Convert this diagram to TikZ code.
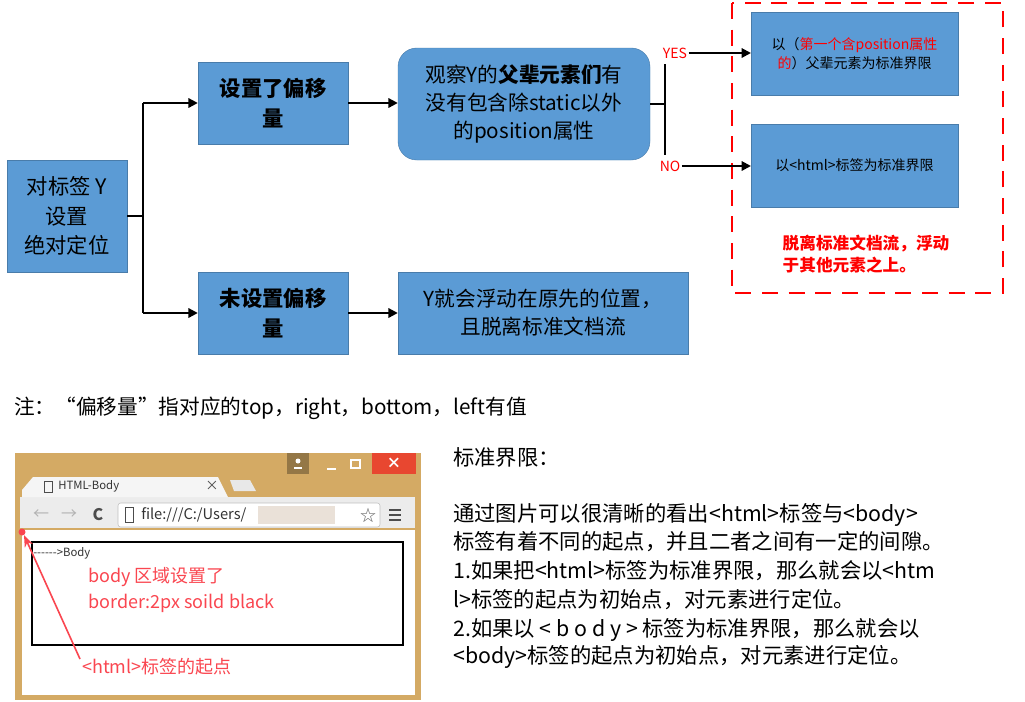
\documentclass[tikz,border=0pt]{standalone}
\usepackage{fontspec}
\setmainfont{Noto Sans CJK SC}
\usetikzlibrary{arrows.meta}
\definecolor{bx}{RGB}{91,155,213}
\definecolor{tan}{RGB}{212,170,100}
\definecolor{pk}{RGB}{250,70,80}
\tikzset{
 blue/.style={fill=bx,draw=bx!80!black,line width=0.3pt,align=center,inner sep=2pt},
 conn/.style={line width=1.6pt,-{Triangle[length=7pt,width=7pt]}},
 ln/.style={line width=1.6pt},
}
\begin{document}
\begin{tikzpicture}[x=0.75pt,y=-0.75pt]
\useasboundingbox (0,0) rectangle (1025,701);
\fill[white] (0,0) rectangle (1025,701);
% boxes
\node[blue,minimum width=90pt,minimum height=84pt,font=\fontsize{16}{22}\selectfont] (A) at (67,216) {对标签 Y\\设置\\绝对定位};
\node[blue,minimum width=112.5pt,minimum height=61.5pt,text width=100pt,font=\bfseries\fontsize{16}{22}\selectfont] (B) at (273,103) {设置了偏移\\量};
\node[blue,rounded corners=14pt,minimum width=189pt,minimum height=84pt,text width=185pt,font=\fontsize{15.5}{21}\selectfont] (C) at (524,104) {观察Y的\textbf{父辈元素们}有\\没有包含除static以外\\的position属性};
\node[blue,minimum width=112.5pt,minimum height=61.5pt,text width=100pt,font=\bfseries\fontsize{16}{22}\selectfont] (D) at (273,313) {未设置偏移\\量};
\node[blue,minimum width=217.5pt,minimum height=61.5pt,text width=210pt,font=\fontsize{15.5}{21}\selectfont] (E) at (543,313) {Y就会浮动在原先的位置，\\且脱离标准文档流};
\node[blue,minimum width=155pt,minimum height=62pt,text width=150pt,font=\fontsize{10.5}{14}\selectfont] (F) at (854.5,53.5) {以（\textcolor{red}{第一个含position属性}\\\textcolor{red}{的}）父辈元素为标准界限};
\node[blue,minimum width=155pt,minimum height=62pt,text width=150pt,font=\fontsize{10.5}{14}\selectfont] (G) at (854.5,165.5) {以<html>标签为标准界限};
\draw[red,line width=1.2pt,dash pattern=on 12pt off 8pt] (732,3) rectangle (1003,293);
\node[red,align=left,font=\bfseries\fontsize{12.5}{17}\selectfont] (R) at (866,254) {脱离标准文档流，浮动\\于其他元素之上。};
% connectors
\coordinate (j1) at (143,216);
\draw[ln] (A.east) -- (j1);
\draw[ln] (143,103) -- (143,313);
\draw[conn] (143,103) -- (B.west);
\draw[conn] (143,313) -- (D.west);
\draw[conn] (B.east) -- (C.west|-B.east);
\draw[conn] (D.east) -- (E.west);
\coordinate (j2) at (665,104);
\draw[ln] (C.east|-j2) -- (j2);
\draw[ln] (665,64) -- (665,155);
\node[red,font=\fontsize{10.5}{12}\selectfont,inner sep=1pt] (yes) at (675,53) {YES};
\node[red,font=\fontsize{10.5}{12}\selectfont,inner sep=1pt] (no) at (670,166) {NO};
\draw[conn] (yes.east) -- (F.west|-yes.east);
\draw[conn] (no.east) -- (G.west|-no.east);
% note
\node[anchor=west,font=\fontsize{15.5}{17}\selectfont,inner sep=0] (note) at (14,408) {注：“偏移量”指对应的top，right，bottom，left有值};
% browser
\fill[tan] (15,453) rectangle (421,700);
\fill[tan!70!black] (287,453) rectangle (309,474);
\fill[white] (298,461) circle (2.5);
\fill[white] (294,467) rectangle (302,469);
\draw[white,line width=1.2pt] (327,469) -- (336,469);
\draw[white,line width=1pt] (351,460) rectangle (360,468);
\fill[red!60!brown!90!white] (372,453) rectangle (416,474);
\node[white,font=\bfseries\fontsize{11}{11}\selectfont] (x) at (394,463) {×};
\fill[white!85!gray] (20,528) rectangle (415,497);
\fill[white!92!gray] (22,490) -- (33,477) -- (218,477) -- (228,497) -- (22,497) -- cycle;
\fill[white!82!gray] (230,480) -- (250,480) -- (256,491) -- (234,491) -- cycle;
\node[anchor=west,font=\fontsize{8.5}{10}\selectfont,text=black!80,inner sep=0] (tab) at (58,486) {HTML-Body};
\draw[black!70] (44,481) rectangle (52,492);
\node[font=\fontsize{10}{10}\selectfont,text=black!70] (tx) at (212,486) {×};
\node[font=\fontsize{12}{12}\selectfont,text=black!30] (bk) at (41,515) {←};
\node[font=\fontsize{12}{12}\selectfont,text=black!30] (fw) at (69,515) {→};
\node[font=\bfseries\fontsize{12}{12}\selectfont,text=black!70] (rl) at (98,515) {C};
\draw[black!25,fill=white,rounded corners=2pt] (118,503) rectangle (380,527);
\node[anchor=west,font=\fontsize{11}{11}\selectfont,inner sep=0,text=black!80] (url) at (141,515) {file:///C:/Users/};
\fill[white!85!brown!90!gray] (258,506) rectangle (335,524);
\draw[black!70] (125,507) rectangle (133,522);
\node[font=\fontsize{12}{12}\selectfont,text=black!60] (st) at (368,515) {☆};
\foreach \yy in {510,515,520} \draw[black!70,line width=1.3pt] (389,\yy) -- (401,\yy);
\fill[white] (22,530) rectangle (415,695);
\draw[black,line width=1.2pt] (32,542) rectangle (403,645);
\node[anchor=west,inner sep=0,font=\fontsize{8.5}{10}\selectfont,text=black!80] (bd) at (33,553) {-{}-{}-{}-{}-{}->Body};
\node[anchor=west,inner sep=0,align=left,text=pk,font=\fontsize{13.5}{19}\selectfont] (bt) at (88,590) {body 区域设置了\\border:2px soild black};
\fill[pk] (22,532) circle (3.5);
\coordinate (dot) at (24,535);
\node[anchor=west,inner sep=0,text=pk,font=\fontsize{13.5}{15}\selectfont] (hl) at (82,667) {<html>标签的起点};
\draw[pk,line width=1.2pt,-{Stealth[length=9pt]}] (hl.west) ++(-2,-8) -- (dot);
% right text
\begin{scope}[every node/.style={anchor=west,inner sep=0,font=\fontsize{16}{18}\selectfont}]
\node (t0) at (453,457) {标准界限：};
\node (t1) at (453,515) {通过图片可以很清晰的看出<html>标签与<body>};
\node (t2) at (453,542) {标签有着不同的起点，并且二者之间有一定的间隙。};
\node (t3) at (453,571) {1.如果把<html>标签为标准界限，那么就会以<htm};
\node (t4) at (453,600) {l>标签的起点为初始点，对元素进行定位。};
\node (t5) at (453,630) {2.如果以 < b o d y > 标签为标准界限，那么就会以};
\node (t6) at (453,657) {<body>标签的起点为初始点，对元素进行定位。};
\end{scope}
\end{tikzpicture}
\end{document}
